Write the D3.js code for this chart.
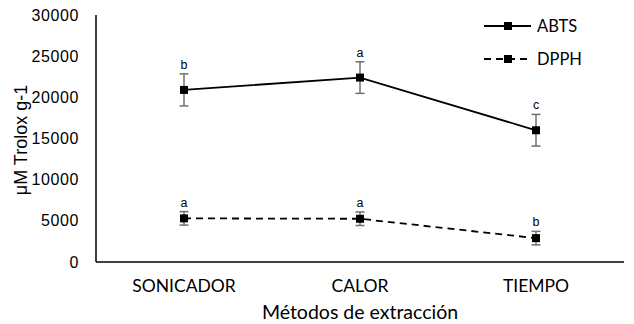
<!DOCTYPE html>
<html>
<head>
<meta charset="utf-8">
<script src="https://cdn.jsdelivr.net/npm/d3@7"></script>
<style>
  body { margin: 0; background: #fff; }
  svg { display: block; }
</style>
</head>
<body>
<svg id="chart" width="634" height="324"></svg>
<script>
// datos
var metodos = ["SONICADOR", "CALOR", "TIEMPO"];
var abts = [20900, 22400, 16000];
var abtsErr = [1950, 1920, 1920];
var abtsLetras = ["b", "a", "c"];
var dpph = [5300, 5250, 2900];
var dpphErr = [820, 820, 820];
var dpphLetras = ["a", "a", "b"];
var yTicks = [0, 5000, 10000, 15000, 20000, 25000, 30000];

var svg = d3.select("#chart");
var mLeft = 96, mRight = 624, mTop = 15, mBottom = 262;

var x = d3.scaleBand().domain(metodos).range([mLeft, mRight]);
var y = d3.scaleLinear().domain([0, 30000]).range([mBottom, mTop]);
var cx = function (d) { return x(d) + x.bandwidth() / 2; };

// ejes
svg.append("line").attr("x1", mLeft).attr("x2", mLeft).attr("y1", mTop).attr("y2", mBottom)
    .attr("stroke", "#000").attr("stroke-width", 1.5);
svg.append("line").attr("x1", mLeft).attr("x2", mRight).attr("y1", mBottom).attr("y2", mBottom)
    .attr("stroke", "#000").attr("stroke-width", 1.5);

svg.selectAll(".ylab").data(yTicks).enter().append("text")
    .attr("x", 79).attr("y", function (d) { return y(d) + 5.5; })
    .attr("text-anchor", "end")
    .attr("font-family", "Liberation Sans, Arial, sans-serif")
    .attr("font-size", 16).attr("letter-spacing", 0.6)
    .text(function (d) { return d; });

svg.selectAll(".xlab").data(metodos).enter().append("text")
    .attr("x", cx).attr("y", 292)
    .attr("text-anchor", "middle")
    .attr("font-family", "Lato, sans-serif")
    .attr("font-size", 17.5)
    .text(function (d) { return d; });

svg.append("text").attr("x", 360).attr("y", 319).attr("text-anchor", "middle")
    .attr("font-family", "Lato, sans-serif").attr("font-size", 19.5)
    .text("Métodos de extracción");

svg.append("text").attr("transform", "translate(27,140) rotate(-90)")
    .attr("text-anchor", "middle")
    .attr("font-family", "Liberation Sans, Arial, sans-serif").attr("font-size", 18)
    .text("μM Trolox g-1");

function serie(valores, errores, letras, dash) {
    var pts = metodos.map(function (m, i) {
        return { m: m, v: valores[i], e: errores[i], l: letras[i] };
    });
    var line = d3.line().x(function (d) { return cx(d.m); }).y(function (d) { return y(d.v); });
    svg.append("path").datum(pts).attr("d", line)
        .attr("fill", "none").attr("stroke", "#000").attr("stroke-width", 1.8)
        .attr("stroke-dasharray", dash);
    var g = svg.append("g").selectAll("g").data(pts).enter().append("g");
    g.append("line").attr("x1", function (d) { return cx(d.m); }).attr("x2", function (d) { return cx(d.m); })
        .attr("y1", function (d) { return y(d.v + d.e); }).attr("y2", function (d) { return y(d.v - d.e); })
        .attr("stroke", "#707070").attr("stroke-width", 1.5);
    [1, -1].forEach(function (s) {
        g.append("line").attr("x1", function (d) { return cx(d.m) - 4.5; }).attr("x2", function (d) { return cx(d.m) + 4.5; })
            .attr("y1", function (d) { return y(d.v + s * d.e); }).attr("y2", function (d) { return y(d.v + s * d.e); })
            .attr("stroke", "#707070").attr("stroke-width", 1.5);
    });
    g.append("rect").attr("x", function (d) { return cx(d.m) - 4; }).attr("y", function (d) { return y(d.v) - 4; })
        .attr("width", 8).attr("height", 8).attr("fill", "#000");
    g.append("text").attr("x", function (d) { return cx(d.m); })
        .attr("y", function (d) { return y(d.v + d.e) - 5; })
        .attr("text-anchor", "middle").attr("fill", "#000")
        .attr("font-family", "Liberation Sans Narrow, Liberation Sans, sans-serif").attr("font-size", 12.5)
        .text(function (d) { return d.l; });
}
serie(abts, abtsErr, abtsLetras, null);
serie(dpph, dpphErr, dpphLetras, "7,5");

// leyenda
var leyenda = [{ n: "ABTS", dash: null, y: 26 }, { n: "DPPH", dash: "7,5", y: 59 }];
leyenda.forEach(function (d) {
    svg.append("line").attr("x1", 484).attr("x2", 531).attr("y1", d.y).attr("y2", d.y)
        .attr("stroke", "#000").attr("stroke-width", 1.8).attr("stroke-dasharray", d.dash);
    svg.append("rect").attr("x", 504).attr("y", d.y - 4).attr("width", 8).attr("height", 8).attr("fill", "#000");
    svg.append("text").attr("x", 537).attr("y", d.y + 6)
        .attr("font-family", "Lato, sans-serif").attr("font-size", 16.5).text(d.n);
});
</script>
</body>
</html>
